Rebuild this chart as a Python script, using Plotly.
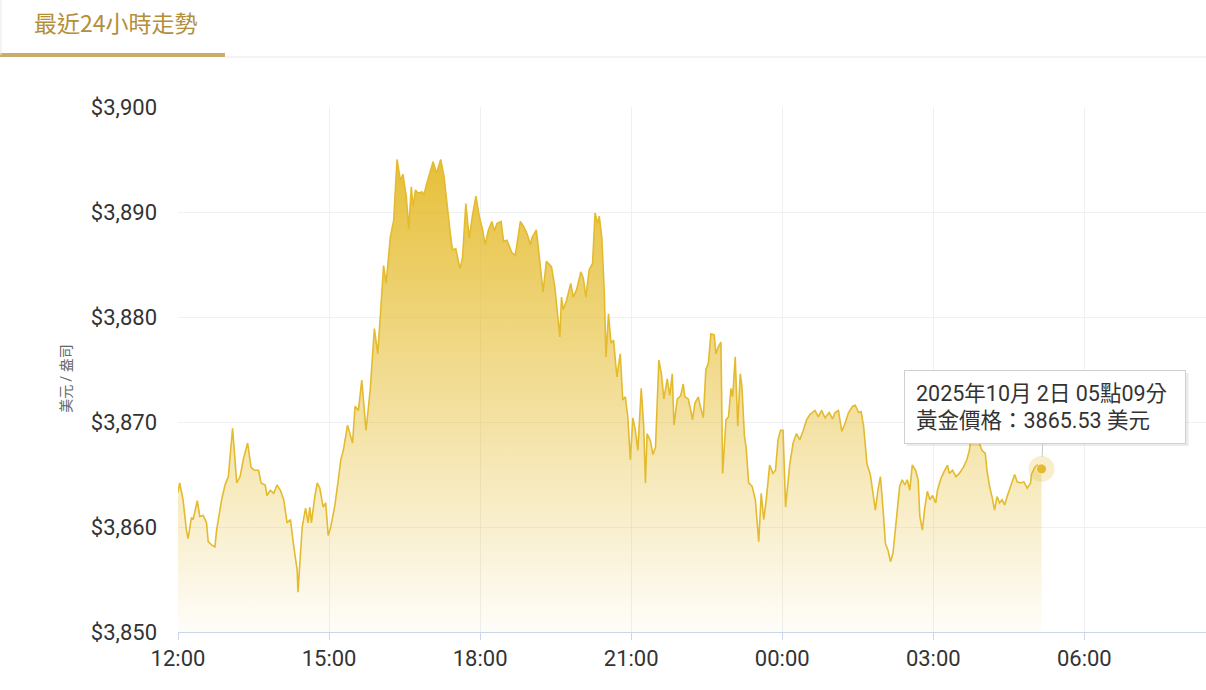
import pandas as pd
import plotly.graph_objects as go

# 黃金價格 最近24小時 (美元/盎司), 2025-10-01 12:00 起算的分鐘數
start = pd.Timestamp("2025-10-01 12:00")

minutes = [
    0, 2, 6, 10, 12, 16, 18, 23, 26, 30, 34, 36, 40, 44, 46, 52, 56, 60,
    65, 70, 74, 78, 83, 87, 91, 96, 99, 104, 106, 110, 114, 118, 122, 126, 130, 134, 138, 142, 143, 146, 148, 152, 155, 157, 159, 163, 166, 169, 173, 176, 179,
    182, 187, 191, 194, 197, 202, 208, 211, 215, 219, 224, 229, 234, 238, 241, 245, 248, 253, 257, 261, 265, 268, 272, 275, 278, 280, 283, 286, 291, 293, 296, 300,
    304, 308, 313, 317, 321, 324, 327, 331, 336, 339, 343, 347, 351, 355, 359, 363, 366, 370, 374, 377, 380, 385, 388, 392, 398, 402, 408, 412, 416, 420, 422, 427,
    431, 435, 439, 445, 449, 452, 455, 457, 459, 463, 468, 471, 475, 480, 483, 486, 490, 494, 497, 500, 502, 505, 508, 510, 513, 516, 519, 523, 527, 530, 533, 536, 539,
    542, 545, 548, 552, 555, 557, 559, 563, 566, 569, 573, 576, 579, 583, 586, 589, 591, 595, 599, 602, 604, 608, 611, 613, 616, 620, 623, 626, 629, 632, 635, 639, 641,
    644, 647, 649, 653, 656, 659, 661, 664, 667, 670, 672, 675, 677, 680, 684, 688, 691, 692, 695, 698, 701, 705, 709, 712, 715, 718, 721, 724, 729, 733, 737, 741, 745,
    749, 753, 759, 763, 767, 771, 776, 780, 783, 787, 791, 795, 799, 804, 807, 811, 814, 817, 821, 825, 829, 831, 834, 837, 840, 843, 846, 849, 852, 856, 860, 863, 866,
    869, 872, 875, 879, 882, 884, 887, 890, 893, 896, 899, 903, 905, 909, 913, 917, 919, 923, 927, 931, 936, 940, 943, 946, 950, 952, 958, 962, 964, 967, 970, 973, 976,
    979, 982, 985, 988, 992, 997, 1000, 1004, 1008, 1012, 1016, 1017, 1021, 1024, 1029,
]

prices = [
    3863.3, 3864.2, 3862.6, 3859.7, 3858.9, 3860.9, 3860.7, 3862.5, 3861.0, 3861.1, 3860.4, 3858.6, 3858.3, 3858.1, 3859.7, 3862.6, 3864.0, 3864.8,
    3869.4, 3864.2, 3864.8, 3866.5, 3868.0, 3865.7, 3865.4, 3865.4, 3864.2, 3864.0, 3863.0, 3863.5, 3863.2, 3864.0, 3863.5, 3862.6, 3860.4, 3860.7, 3858.1, 3855.9, 3853.8, 3857.5, 3860.0, 3861.8, 3860.4, 3861.9, 3860.4, 3862.9, 3864.2, 3863.7, 3861.9, 3862.3, 3859.2,
    3860.0, 3862.1, 3864.5, 3866.4, 3867.3, 3869.7, 3868.0, 3871.5, 3871.1, 3874.0, 3869.2, 3873.0, 3878.9, 3876.5, 3880.0, 3884.9, 3883.2, 3887.6, 3889.2, 3895.0, 3893.0, 3893.6, 3891.5, 3888.4, 3892.4, 3890.5, 3892.1, 3891.8, 3891.9, 3891.6, 3892.6, 3893.8,
    3894.8, 3893.7, 3895.0, 3893.4, 3890.2, 3888.3, 3886.4, 3886.5, 3884.6, 3885.6, 3890.8, 3887.5, 3889.7, 3891.5, 3889.6, 3888.3, 3886.9, 3888.3, 3889.1, 3888.2, 3888.9, 3889.1, 3887.2, 3887.3, 3886.1, 3885.9, 3889.1, 3888.6, 3887.9, 3886.9, 3887.6, 3888.3,
    3885.4, 3882.4, 3885.3, 3884.8, 3882.9, 3880.7, 3878.1, 3881.9, 3880.7, 3881.6, 3883.2, 3881.9, 3882.6, 3884.3, 3883.7, 3881.9, 3884.5, 3885.1, 3889.9, 3888.9, 3889.6, 3887.6, 3882.3, 3876.2, 3880.3, 3877.5, 3877.8, 3874.3, 3876.5, 3872.1, 3872.4, 3870.5, 3866.4,
    3870.4, 3869.2, 3867.3, 3873.2, 3869.5, 3864.2, 3868.9, 3868.2, 3866.9, 3867.6, 3875.9, 3874.6, 3872.2, 3874.1, 3872.5, 3874.6, 3869.7, 3872.2, 3872.5, 3873.6, 3872.4, 3872.2, 3871.1, 3870.2, 3871.8, 3872.4, 3871.3, 3870.4, 3875.0, 3875.6, 3878.4, 3878.3, 3876.5,
    3877.2, 3877.6, 3865.1, 3870.2, 3870.5, 3873.2, 3872.4, 3876.2, 3869.6, 3874.6, 3873.4, 3868.6, 3867.6, 3864.2, 3863.9, 3862.6, 3859.7, 3858.6, 3863.2, 3860.7, 3862.6, 3865.9, 3865.1, 3865.4, 3868.3, 3869.2, 3869.2, 3861.9, 3866.0, 3868.0, 3868.9, 3868.3, 3869.2,
    3870.2, 3870.7, 3871.1, 3870.5, 3871.1, 3870.4, 3870.9, 3870.3, 3870.9, 3871.1, 3869.1, 3869.9, 3870.9, 3871.5, 3871.6, 3870.9, 3871.0, 3869.6, 3866.0, 3865.0, 3862.9, 3861.6, 3863.5, 3864.8, 3861.9, 3858.4, 3857.8, 3856.7, 3857.5, 3860.4, 3863.9, 3864.5, 3864.0,
    3864.5, 3863.5, 3865.9, 3865.4, 3864.5, 3861.0, 3859.7, 3861.9, 3863.4, 3862.6, 3863.0, 3862.3, 3863.5, 3864.6, 3865.3, 3865.9, 3865.1, 3865.4, 3864.8, 3865.1, 3865.7, 3866.4, 3867.3, 3869.0, 3869.2, 3868.6, 3867.3, 3867.0, 3865.4, 3863.9, 3862.9, 3861.6, 3862.9,
    3862.3, 3862.6, 3862.1, 3862.9, 3863.9, 3865.0, 3864.3, 3864.2, 3864.3, 3863.7, 3864.2, 3865.0, 3865.7, 3865.9, 3865.53,
]

assert len(minutes) == len(prices)

times = start + pd.to_timedelta(minutes, unit="min")
last_t = times[-1]
last_p = prices[-1]

gold = "#e4bb2f"
font_family = "Roboto, 'Noto Sans CJK TC', sans-serif"

fig = go.Figure()

fig.add_trace(go.Scatter(
    x=times, y=prices,
    mode="lines",
    line=dict(color=gold, width=1.6),
    fill="tozeroy",
    fillgradient=dict(
        type="vertical",
        colorscale=[[0, "rgba(229,188,46,0.03)"], [1, "rgba(229,188,46,0.95)"]],
        start=3850, stop=3895,
    ),
    hoverinfo="skip",
    showlegend=False,
))

# 最後一點 (光暈 + 圓點)
fig.add_trace(go.Scatter(
    x=[last_t], y=[last_p], mode="markers",
    marker=dict(size=26, color="rgba(229,188,46,0.25)"),
    hoverinfo="skip", showlegend=False,
))
fig.add_trace(go.Scatter(
    x=[last_t], y=[last_p], mode="markers",
    marker=dict(size=10, color=gold, line=dict(color="rgba(255,255,255,0.6)", width=1)),
    hoverinfo="skip", showlegend=False,
))

tip_text = (f"{last_t.year}年{last_t.month}月 {last_t.day}日 {last_t:%H}點{last_t:%M}分<br>"
            f"黃金價格：{last_p:.2f} 美元")

# 提示框陰影 (以最後一點為錨, 像素偏移)
fig.add_shape(
    type="rect", xref="x", yref="y", xsizemode="pixel", ysizemode="pixel",
    xanchor=last_t, yanchor=last_p, x0=-135, x1=147, y0=23, y1=96,
    fillcolor="rgba(0,0,0,0.08)", line=dict(width=0), layer="above",
)
fig.add_annotation(
    x=last_t, y=last_p, text=tip_text, showarrow=True, arrowhead=0, arrowwidth=1,
    arrowcolor="#c8c8c8", standoff=12,
    ax=3, ay=-62, width=258, height=50, borderpad=11,
    bgcolor="white", bordercolor="#d0d0d0", borderwidth=1,
    font=dict(color="#333333", size=21.5, family=font_family),
    align="left",
)

# 標題頁籤
fig.add_annotation(
    xref="paper", yref="paper", x=-0.142, y=1.162, xanchor="left", yanchor="middle",
    text="最近24小時走勢", showarrow=False,
    font=dict(color="#b38e3b", size=23, family="'Noto Sans CJK TC', Roboto, sans-serif"),
)
fig.add_shape(type="line", xref="paper", yref="paper", x0=-0.1732, x1=0.0457, y0=1.099, y1=1.099,
              line=dict(color="#c9ad6e", width=4))
fig.add_shape(type="line", xref="paper", yref="paper", x0=0.0457, x1=1.0, y0=1.0952, y1=1.0952,
              line=dict(color="#e8e8e8", width=1))
fig.add_shape(type="line", xref="paper", yref="paper", x0=-0.1722, x1=-0.1722, y0=1.099, y1=1.204,
              line=dict(color="#e8e8e8", width=1))

# Y 軸標題
fig.add_annotation(
    xref="paper", yref="paper", x=-0.109, y=0.484, textangle=-90,
    xanchor="center", yanchor="middle",
    text="美元 / 盎司", showarrow=False,
    font=dict(color="#666666", size=14, family=font_family),
)

fig.update_layout(
    width=1206, height=690,
    margin=dict(l=178, r=0, t=107, b=58),
    paper_bgcolor="white", plot_bgcolor="white",
    font=dict(family=font_family, color="#333333"),
    xaxis=dict(
        type="date",
        range=[start, pd.Timestamp("2025-10-02 08:25")],
        tick0=start, dtick=3 * 3600 * 1000, tickformat="%H:%M",
        showgrid=True, gridcolor="#eef0f3", gridwidth=1,
        showline=True, linecolor="#ccd6eb", linewidth=1,
        ticks="outside", tickcolor="#ccd6eb", ticklen=7,
        tickfont=dict(size=22, color="#333333"),
        zeroline=False,
    ),
    yaxis=dict(
        range=[3850, 3900], dtick=10, tickprefix="$", tickformat=",",
        showgrid=True, gridcolor="#eef0f3", gridwidth=1,
        zeroline=False, showline=False,
        ticklabelstandoff=20,
        tickfont=dict(size=22, color="#333333"),
    ),
)

fig.write_html("out.html", config={"displayModeBar": False},
               post_script="document.body.style.margin='0';")
